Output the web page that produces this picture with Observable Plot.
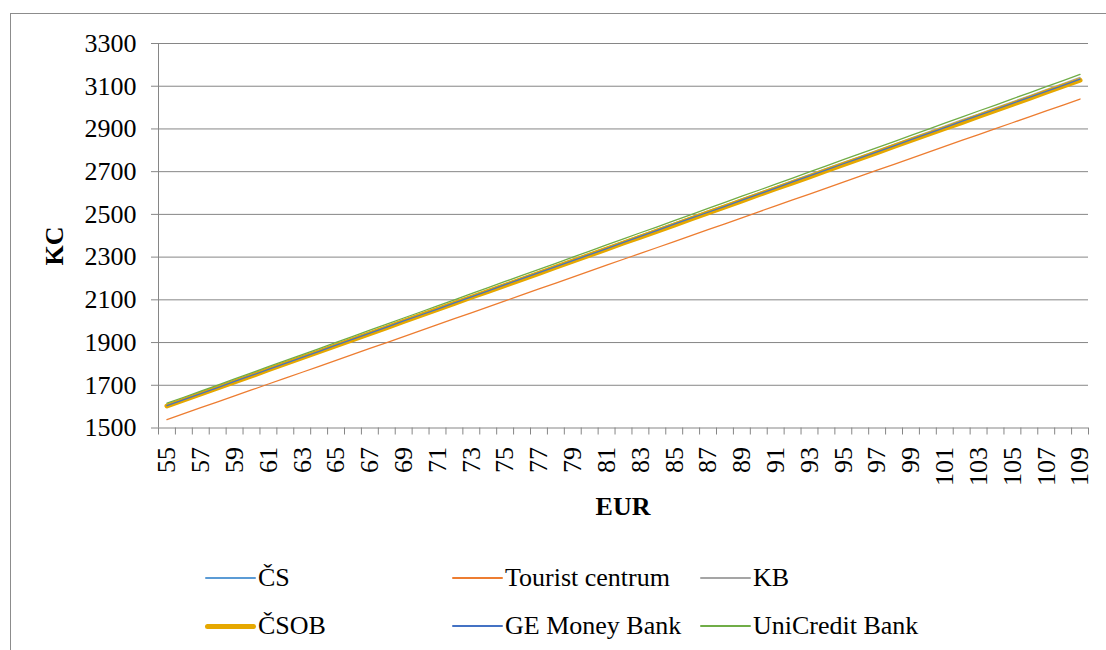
<!DOCTYPE html>
<html>
<head>
<meta charset="utf-8">
<script src="https://cdn.jsdelivr.net/npm/d3@7"></script>
<script src="https://cdn.jsdelivr.net/npm/@observablehq/plot@0.6"></script>
<style>
  html, body { margin: 0; padding: 0; background: white; }
  body { width: 1106px; height: 650px; position: relative; overflow: hidden; font-family: 'Liberation Serif', serif; }
  #chart { position: absolute; left: 0; top: 0; }
  #chart svg, #chart svg text { font-family: 'Liberation Serif', serif; }
  #border { position: absolute; left: 10px; top: 13px; width: 1200px; height: 800px; border: 1px solid #8c8c8c; pointer-events: none; z-index: 5; }
  .leg { position: absolute; display: flex; align-items: center; height: 34px; font-family: 'Liberation Serif', serif; font-size: 26px; color: black; white-space: nowrap; }
  .sw { width: 51px; margin-right: 2px; border-radius: 3px; }
  .atitle { position: absolute; font-family: 'Liberation Serif', serif; font-size: 26px; font-weight: bold; color: black; white-space: nowrap; line-height: normal; }
</style>
</head>
<body>
<div id="chart"></div>
<div id="ytitle" class="atitle"></div>
<div id="xtitle" class="atitle"></div>
<div id="legend"></div>
<div id="border"></div>
<script>
// Categories (EUR amounts)
const eur = [55,56,57,58,59,60,61,62,63,64,65,66,67,68,69,70,71,72,73,74,75,76,77,78,79,80,81,82,83,84,85,86,87,88,89,90,91,92,93,94,95,96,97,98,99,100,101,102,103,104,105,106,107,108,109];
const eurTickLabels = [55,57,59,61,63,65,67,69,71,73,75,77,79,81,83,85,87,89,91,93,95,97,99,101,103,105,107,109];
const yTicks = [1500,1700,1900,2100,2300,2500,2700,2900,3100,3300];
const xTitle = "EUR";
const yTitle = "KC";

// Series values (Kč)
const cs = [1602,1630,1658,1686,1715,1743,1771,1800,1828,1856,1885,1913,1941,1969,1998,2026,2054,2083,2111,2139,2168,2196,2224,2252,2281,2309,2337,2366,2394,2422,2451,2479,2507,2535,2564,2592,2620,2649,2677,2705,2734,2762,2790,2818,2847,2875,2903,2932,2960,2988,3017,3045,3073,3101,3130];
const tourist = [1539,1567,1595,1622,1650,1678,1706,1734,1761,1789,1817,1845,1873,1900,1928,1956,1984,2012,2039,2067,2095,2123,2151,2178,2206,2234,2262,2290,2317,2345,2373,2401,2429,2456,2484,2512,2540,2568,2595,2623,2651,2679,2707,2734,2762,2790,2818,2846,2873,2901,2929,2957,2985,3012,3040];
const kb = [1607,1635,1664,1692,1721,1749,1777,1806,1834,1863,1891,1919,1948,1976,2005,2033,2061,2090,2118,2147,2175,2203,2232,2260,2289,2317,2345,2374,2402,2431,2459,2487,2516,2544,2573,2601,2629,2658,2686,2715,2743,2771,2800,2828,2857,2885,2913,2942,2970,2999,3027,3055,3084,3112,3141];
const csob = [1603,1631,1660,1688,1716,1744,1773,1801,1829,1857,1886,1914,1942,1970,1999,2027,2055,2083,2112,2140,2168,2196,2224,2253,2281,2309,2337,2366,2394,2422,2450,2479,2507,2535,2563,2592,2620,2648,2676,2705,2733,2761,2789,2818,2846,2874,2902,2930,2959,2987,3015,3043,3072,3100,3128];
const ge = [1605,1633,1661,1689,1718,1746,1774,1803,1831,1859,1888,1916,1944,1972,2001,2029,2057,2086,2114,2142,2171,2199,2227,2255,2284,2312,2340,2369,2397,2425,2454,2482,2510,2538,2567,2595,2623,2652,2680,2708,2737,2765,2793,2821,2850,2878,2906,2935,2963,2991,3020,3048,3076,3104,3133];
const unicredit = [1616,1644,1673,1701,1730,1758,1787,1815,1844,1872,1901,1929,1958,1986,2015,2043,2072,2100,2129,2157,2186,2214,2243,2271,2300,2328,2357,2385,2414,2442,2471,2499,2528,2556,2585,2613,2642,2670,2699,2727,2756,2784,2813,2841,2870,2898,2927,2955,2984,3012,3041,3069,3098,3126,3155];

const seriesNames = ["ČS","Tourist centrum","KB","ČSOB","GE Money Bank","UniCredit Bank"];
const seriesValues = [cs, tourist, kb, csob, ge, unicredit];
const seriesColors = ["#5B9BD5","#ED7D31","#A5A5A5","#E6A800","#4472C4","#70AD47"];
const seriesWidths = [1.3,1.3,1.3,5,1.3,1.3];

const gridColor = "#868686";
const boundaries = eur.map(e => e - 0.5).concat([eur[eur.length - 1] + 0.5]);

const lineMarks = seriesValues.map((vals, s) =>
  Plot.line(eur.map((e, i) => ({eur: e, kc: vals[i]})), {
    x: "eur", y: "kc",
    stroke: seriesColors[s], strokeWidth: seriesWidths[s],
    strokeLinecap: "round", strokeLinejoin: "round"
  })
);

const chart = Plot.plot({
  width: 1106,
  height: 530,
  marginLeft: 158,
  marginRight: 18,
  marginTop: 43,
  marginBottom: 102.5,
  style: {fontFamily: "'Liberation Serif', serif", fontSize: "26px", background: "transparent", color: "black", overflow: "visible"},
  x: {type: "linear", domain: [boundaries[0], boundaries[boundaries.length - 1]]},
  y: {domain: [yTicks[0], yTicks[yTicks.length - 1]]},
  marks: [
    Plot.ruleY(yTicks, {stroke: gridColor, strokeWidth: 1}),
    Plot.ruleX([boundaries[0]], {stroke: gridColor, strokeWidth: 1}),
    Plot.axisY({ticks: yTicks, tickSize: 7, tickPadding: 15, tickFormat: d3.format("d"), stroke: gridColor, fill: "black", label: null}),
    Plot.axisX({ticks: boundaries, tickSize: 7, tickFormat: () => "", stroke: gridColor, label: null}),
    Plot.axisX({ticks: eurTickLabels, tickSize: 0, tickPadding: 19, tickRotate: -90, tickFormat: d3.format("d"), fill: "black", label: null}),
    ...lineMarks
  ]
});
document.getElementById("chart").appendChild(chart);

// Axis titles
const yt = document.getElementById("ytitle");
yt.textContent = yTitle;
yt.style.left = "55px"; yt.style.top = "246px";
yt.style.transform = "translate(-50%, -50%) rotate(-90deg)";
const xt = document.getElementById("xtitle");
xt.textContent = xTitle;
xt.style.left = "623px"; xt.style.top = "507px";
xt.style.transform = "translate(-50%, -50%)";

// Legend (3 columns x 2 rows)
const legCols = [205, 452, 700];
const legRows = [578, 626];
const legend = document.getElementById("legend");
seriesNames.forEach((name, s) => {
  const item = document.createElement("div");
  item.className = "leg";
  item.style.left = legCols[s % 3] + "px";
  item.style.top = (legRows[Math.floor(s / 3)] - 17) + "px";
  const sw = document.createElement("div");
  sw.className = "sw";
  sw.style.height = seriesWidths[s] + "px";
  sw.style.background = seriesColors[s];
  const tx = document.createElement("span");
  tx.textContent = name;
  item.appendChild(sw);
  item.appendChild(tx);
  legend.appendChild(item);
});
</script>
</body>
</html>
